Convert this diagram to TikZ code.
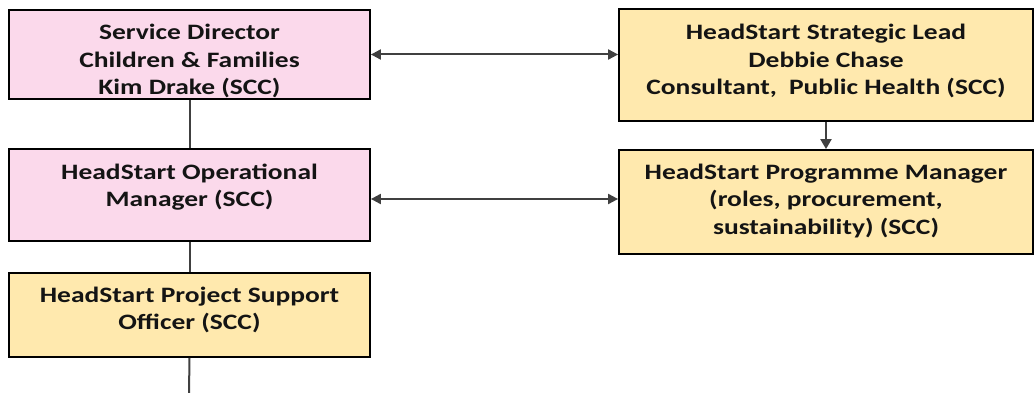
\documentclass[tikz,border=0pt]{standalone}
\usepackage{fontspec}
\setmainfont{Carlito}[FakeStretch=1.25]
\usetikzlibrary{arrows.meta,calc}
\definecolor{pinkfill}{RGB}{251,217,235}
\definecolor{yellowfill}{RGB}{255,233,174}
\definecolor{linegray}{RGB}{64,64,64}
\tikzset{
  box/.style={draw=black,line width=1.8pt,rectangle,inner sep=0pt},
  pinkbox/.style={box,fill=pinkfill},
  yelbox/.style={box,fill=yellowfill},
  txt/.style={align=center,font=\fontsize{22}{27.5}\selectfont\bfseries,inner sep=0pt,text=black!92},
  conn/.style={draw=linegray,line width=2pt},
  biarrow/.style={conn,{Triangle[length=10pt,width=10pt]}-{Triangle[length=10pt,width=10pt]}},
  onearrow/.style={conn,-{Triangle[length=10pt,width=11pt]}}
}
\begin{document}
\begin{tikzpicture}[x=1pt,y=-1pt]
\useasboundingbox (0,0) rectangle (1034,393);
% boxes
\node[pinkbox,minimum width=361pt,minimum height=89pt] (b1) at (189.5,54.5) {};
\node[pinkbox,minimum width=361pt,minimum height=92pt] (b2) at (189.5,195) {};
\node[yelbox,minimum width=361pt,minimum height=84pt] (b3) at (189.5,315) {};
\node[yelbox,minimum width=414pt,minimum height=112pt] (r1) at (826,65) {};
\node[yelbox,minimum width=414pt,minimum height=104pt] (r2) at (826,202) {};
% texts
\node[txt] (t1) at (189.5,61) {Service Director\\Children \& Families\\Kim Drake (SCC)};
\node[txt] (t2) at (189.5,187) {HeadStart Operational\\Manager (SCC)};
\node[txt] (t3) at (189.5,310) {HeadStart Project Support\\Officer (SCC)};
\node[txt] (t4) at (826,61) {HeadStart Strategic Lead\\Debbie Chase\\Consultant,\hspace{12pt}Public Health (SCC)};
\node[txt] (t5) at (826,201) {HeadStart Programme Manager\\(roles, procurement,\\sustainability) (SCC)};
% connectors
\coordinate (bottom) at (189,393);
\coordinate (a2) at ($(b2.east)+(0,4)$);
\draw[conn] (b1.south) -- (b2.north);
\draw[conn] (b2.south) -- (b3.north);
\draw[conn] (b3.south) -- (bottom);
\draw[onearrow] (r1.south) -- (r2.north);
\draw[biarrow] (b1.east) -- (b1.east -| r1.west);
\draw[biarrow] (a2) -- (a2 -| r2.west);
\end{tikzpicture}
\end{document}
